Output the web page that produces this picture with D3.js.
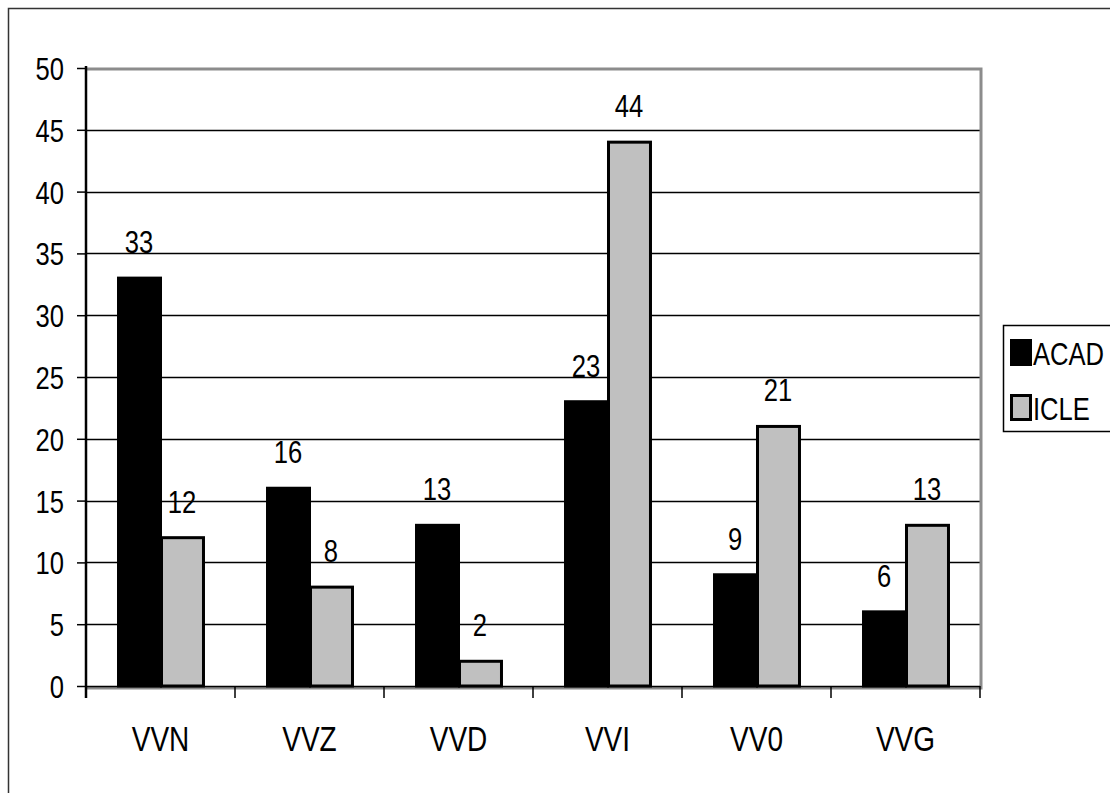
<!DOCTYPE html>
<html>
<head>
<meta charset="utf-8">
<script src="https://cdn.jsdelivr.net/npm/d3@7"></script>
<style>
  html, body { margin: 0; padding: 0; background: #fff; }
  svg { display: block; }
  text { font-family: "Liberation Sans Narrow", "Arial Narrow", "Liberation Sans", sans-serif; fill: #000; }
</style>
</head>
<body>
<svg id="chart" width="1110" height="793"></svg>
<script>
// Counts per category for the two corpora
const categories = ["VVN", "VVZ", "VVD", "VVI", "VV0", "VVG"];
const seriesNames = ["ACAD", "ICLE"];
const acadValues = [33, 16, 13, 23, 9, 6];
const icleValues = [12, 8, 2, 44, 21, 13];
const yTicks = [0, 5, 10, 15, 20, 25, 30, 35, 40, 45, 50];
const seriesColors = ["#000000", "#c0c0c0"];
const legendLabels = ["ACAD", "ICLE"];

const svg = d3.select("#chart");
const W = 1110, H = 793;
const plot = { left: 86, top: 68, right: 980, bottom: 686 };
const NARROW = 0.8; // horizontal squeeze for the condensed lettering

// place a text at (x, y) with condensed glyphs
function narrowAt(sel, fx, fy) {
  sel.attr("x", 0).attr("y", 0)
    .attr("transform", (d, i) => `translate(${fx(d, i)},${fy(d, i)}) scale(${NARROW},1)`);
}

// Outer frame (only top and left edges fall inside the page)
svg.append("path")
  .attr("d", `M8.5,${H} V8.5 H${W}`)
  .attr("fill", "none").attr("stroke", "#333").attr("stroke-width", 1.5);

const y = d3.scaleLinear().domain([0, 50]).range([plot.bottom, plot.top]);
const x0 = d3.scaleBand().domain(categories).range([plot.left, plot.right])
  .paddingInner(0.423).paddingOuter(0.2115);
const x1 = d3.scaleBand().domain(seriesNames).range([0, x0.bandwidth()]);

// Horizontal gridlines
svg.append("g").selectAll("line")
  .data(yTicks.filter(d => d > 0 && d < 50))
  .join("line")
  .attr("x1", plot.left).attr("x2", plot.right)
  .attr("y1", d => Math.round(y(d)) + 0.5).attr("y2", d => Math.round(y(d)) + 0.5)
  .attr("stroke", "#000").attr("stroke-width", 1.5);

// Plot area frame: grey top, right and bottom
svg.append("path")
  .attr("d", `M${plot.left},${plot.top + 1} H${plot.right + 1} V${plot.bottom + 2} H${plot.left}`)
  .attr("fill", "none").attr("stroke", "#8c8c8c").attr("stroke-width", 3);

// Bars
const data = categories.map((c, i) => ({ cat: c, vals: [acadValues[i], icleValues[i]] }));
const groups = svg.append("g").selectAll("g")
  .data(data).join("g")
  .attr("transform", d => `translate(${x0(d.cat)},0)`);

groups.selectAll("rect")
  .data(d => d.vals.map((v, j) => ({ name: seriesNames[j], v, j })))
  .join("rect")
  .attr("x", d => x1(d.name) + 1)
  .attr("y", d => y(d.v))
  .attr("width", x1.bandwidth() - 1)
  .attr("height", d => y(0) - y(d.v))
  .attr("fill", d => seriesColors[d.j])
  .attr("stroke", "#000").attr("stroke-width", 3);

// Value labels above each bar
groups.selectAll("text")
  .data(d => d.vals.map((v, j) => ({ name: seriesNames[j], v, j })))
  .join("text")
  .attr("text-anchor", "middle")
  .attr("font-size", 32)
  .text(d => d.v)
  .call(narrowAt, d => x1(d.name) + x1.bandwidth() / 2, d => y(d.v) - 25);

// Y axis
const yAxis = d3.axisLeft(y).tickValues(yTicks).tickSize(9).tickPadding(13);
const gy = svg.append("g").attr("transform", `translate(${plot.left},0)`).call(yAxis);
gy.select(".domain").attr("stroke", "#000").attr("stroke-width", 2.5)
  .attr("d", `M0,${plot.top - 2} V${plot.bottom + 12}`);
gy.selectAll(".tick line").attr("stroke", "#000").attr("stroke-width", 1.5);
gy.selectAll(".tick text")
  .attr("font-size", 32).attr("font-family", null).attr("dy", "0.36em")
  .call(narrowAt, () => -22, () => 0);

// X axis: category boundary ticks and centred labels
const gx = svg.append("g");
gx.append("line")
  .attr("x1", plot.left).attr("x2", plot.right)
  .attr("y1", plot.bottom + 0.5).attr("y2", plot.bottom + 0.5)
  .attr("stroke", "#000").attr("stroke-width", 1.5);
const step = x0.step();
gx.selectAll("line.tk")
  .data(d3.range(categories.length + 1))
  .join("line").attr("class", "tk")
  .attr("x1", i => plot.left + i * step).attr("x2", i => plot.left + i * step)
  .attr("y1", plot.bottom).attr("y2", plot.bottom + 12)
  .attr("stroke", "#000").attr("stroke-width", 1.5);
gx.selectAll("text")
  .data(categories).join("text")
  .attr("text-anchor", "middle")
  .attr("font-size", 35)
  .text(d => d)
  .call(narrowAt, d => x0(d) + x0.bandwidth() / 2, () => 751);

// Legend
const leg = svg.append("g");
leg.append("rect")
  .attr("x", 1003.5).attr("y", 325.5).attr("width", 140).attr("height", 106)
  .attr("fill", "#fff").attr("stroke", "#000").attr("stroke-width", 1.5);
const items = leg.selectAll("g.item")
  .data(legendLabels).join("g").attr("class", "item")
  .attr("transform", (d, i) => `translate(1010,${339 + i * 55})`);
items.append("rect")
  .attr("x", 1.5).attr("y", 1.5).attr("width", 19).attr("height", 24)
  .attr("fill", (d, i) => seriesColors[i]).attr("stroke", "#000").attr("stroke-width", 3);
items.append("text")
  .attr("font-size", 32)
  .text(d => d)
  .call(narrowAt, () => 23, () => 26);
</script>
</body>
</html>
